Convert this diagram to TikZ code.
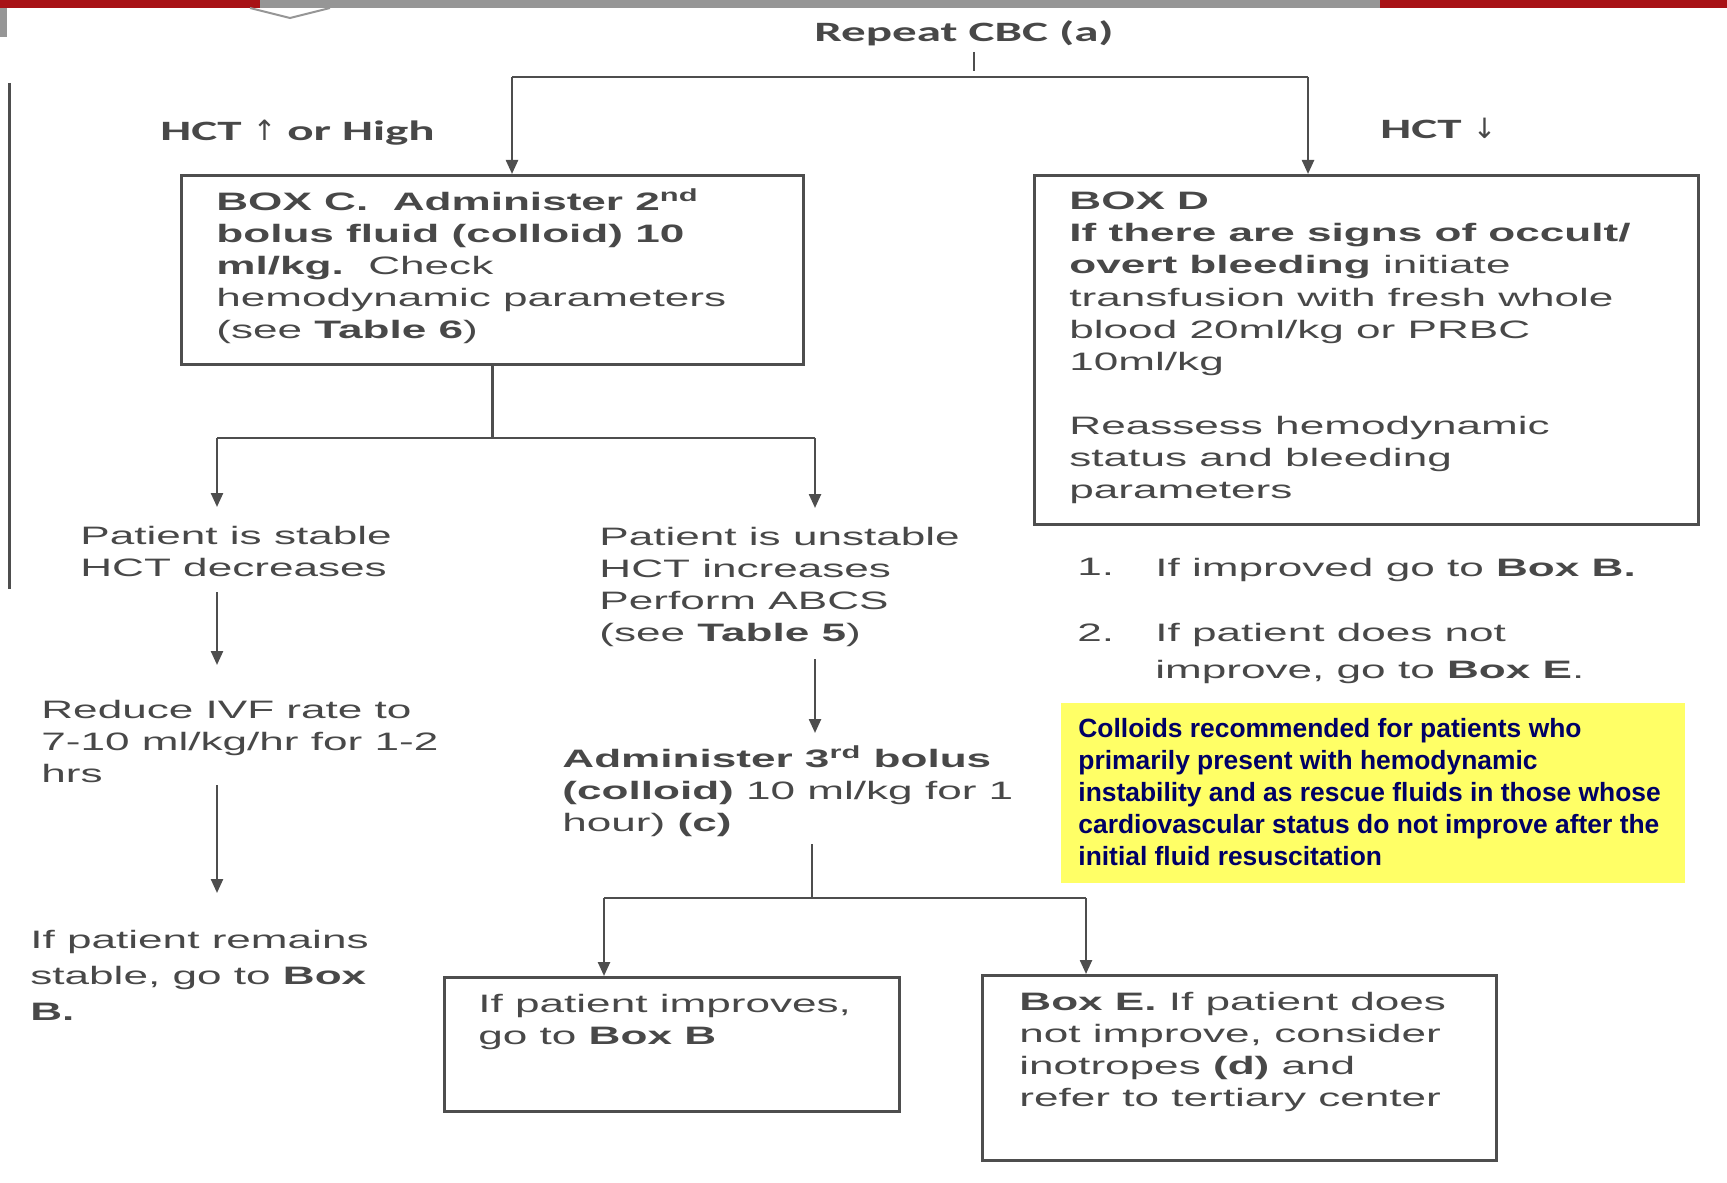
\documentclass[tikz,border=0pt]{standalone}
\usepackage{fontspec}
\setmainfont[FakeStretch=1.75]{Liberation Sans}
\newfontfamily\headfont[FakeStretch=1.75]{Carlito}
\newfontfamily\symfont{DejaVu Sans}
\newfontfamily\notefont{Liberation Sans}
\usetikzlibrary{arrows.meta}

\definecolor{inkgrey}{RGB}{72,72,72}
\definecolor{linegrey}{RGB}{78,78,78}
\definecolor{notefill}{RGB}{255,255,102}
\definecolor{noteink}{RGB}{0,0,102}
\definecolor{bannerred}{RGB}{168,18,22}
\definecolor{bannergrey}{RGB}{150,150,150}

\tikzset{
  box/.style={draw=linegrey, line width=1.4pt, anchor=north west, inner sep=0pt},
  txt/.style={anchor=north west, inner sep=0pt, align=left, text=inkgrey,
    font=\fontsize{12.6}{16}\selectfont},
  head/.style={inner sep=0pt, text=inkgrey, font=\headfont\bfseries\fontsize{14}{16}\selectfont},
  flow/.style={draw=linegrey, line width=1.2pt},
  go/.style={flow, -{Triangle[width=6pt,length=7pt]}},
}

\begin{document}
\begin{tikzpicture}[x=0.5pt,y=-0.5pt]
  \useasboundingbox (0,0) rectangle (1727,1182);
  % slide edge
  \fill[bannerred] (0,0) rectangle (260,8);
  \fill[bannergrey] (260,0) rectangle (1380,8);
  \fill[bannerred] (1380,0) rectangle (1727,8);
  \fill[bannergrey] (0,8) rectangle (7,37);
  \draw[bannergrey, line width=1pt] (250,8) -- (290,18) -- (330,8);
  \draw[linegrey, line width=1.5pt] (9,83) -- (9,589);

  % headings
  \node[head, anchor=base] (cbc) at (964,42) {Repeat CBC (a)};
  \node[head, anchor=base west] (hctup) at (160,141) {HCT {\symfont\mdseries ↑} or High};
  \node[head, anchor=base west] (hctdown) at (1380,139) {HCT {\symfont\mdseries ↓}};

  % boxes
  \node[box, minimum width=311pt, minimum height=94.5pt] (boxC) at (180,174) {};
  \node[box, minimum width=332pt, minimum height=174.5pt] (boxD) at (1033,174) {};
  \node[box, minimum width=227.5pt, minimum height=67pt] (improve) at (443,976) {};
  \node[box, minimum width=257pt, minimum height=92.5pt] (boxE) at (981,974) {};
  \node[box, draw=none, fill=notefill, minimum width=312pt, minimum height=90pt] (colloid) at (1060,702) {};

  \node[txt] (boxCtext) at ([shift={(18pt,-9pt)}]boxC.north west)
    {\textbf{BOX C.\ \ Administer 2\smash{\textsuperscript{nd}}}\\
     \textbf{bolus fluid (colloid) 10}\\
     \textbf{ml/kg.}\ \ Check\\
     hemodynamic parameters\\
     (see \textbf{Table 6})};
  \node[txt] (boxDtext) at ([shift={(18pt,-9pt)}]boxD.north west)
    {\textbf{BOX D}\\
     \textbf{If there are signs of occult/}\\
     \textbf{overt bleeding} initiate\\
     transfusion with fresh whole\\
     blood 20ml/kg or PRBC\\
     10ml/kg\\[16pt]
     Reassess hemodynamic\\
     status and bleeding\\
     parameters};
  \node[txt] (improvetext) at ([shift={(17.5pt,-9pt)}]improve.north west)
    {If patient improves,\\go to \textbf{Box B}};
  \node[txt] (boxEtext) at ([shift={(19pt,-9pt)}]boxE.north west)
    {\textbf{Box E.} If patient does\\
     not improve, consider\\
     inotropes \textbf{(d)} and\\
     refer to tertiary center};
  \node[txt, text=noteink, font=\notefont\bfseries\fontsize{13.2}{16}\selectfont] (colloidtext)
    at ([shift={(9pt,-8pt)}]colloid.north west)
    {Colloids recommended for patients who\\
     primarily present with hemodynamic\\
     instability and as rescue fluids in those whose\\
     cardiovascular status do not improve after the\\
     initial fluid resuscitation};

  % free texts
  \node[txt] (stable) at (80,526) {Patient is stable\\HCT decreases};
  \node[txt] (reduce) at (41,700) {Reduce IVF rate to\\7-10 ml/kg/hr for 1-2\\hrs};
  \node[txt, font=\fontsize{12.6}{18}\selectfont] (remain) at (30,930)
    {If patient remains\\stable, go to \textbf{Box}\\\textbf{B.}};
  \node[txt] (unstable) at (599,527)
    {Patient is unstable\\HCT increases\\Perform ABCS\\(see \textbf{Table 5})};
  \node[txt] (third) at (562,749)
    {\textbf{Administer 3\smash{\textsuperscript{rd}} bolus}\\
     \textbf{(colloid)} 10 ml/kg for 1\\
     hour) \textbf{(c)}};
  \node[txt] (numA) at (1077,558) {1.};
  \node[txt] (itemA) at (1155,558) {If improved go to \textbf{Box B.}};
  \node[txt] (numB) at (1077,623) {2.};
  \node[txt, font=\fontsize{12.6}{18.5}\selectfont] (itemB) at (1155,623)
    {If patient does not\\improve, go to \textbf{Box E}.};

  % connectors
  \draw[flow] ([xshift=5pt,yshift=-2.5pt]cbc.south) -- ([xshift=5pt,yshift=-12pt]cbc.south);
  \coordinate (hctL) at (512,77);
  \coordinate (hctR) at (1308,77);
  \draw[flow] (hctL) -- (hctR);
  \draw[go] (hctL) -- (hctL |- boxC.north);
  \draw[go] (hctR) -- (hctR |- boxD.north);

  \coordinate (colA) at (217,438);
  \coordinate (colB) at (815,438);
  \draw[flow] (boxC.south) -- (boxC.south |- colA);
  \draw[flow] (colA) -- (colB);
  \draw[go] (colA) -- ([yshift=9.5pt]colA |- stable.north);
  \draw[go] (colB) -- ([yshift=9.5pt]colB |- unstable.north);
  \draw[go] ([yshift=-7.5pt]colA |- stable.south) -- ([yshift=17.5pt]colA |- reduce.north);
  \draw[go] ([yshift=-1pt]colA |- reduce.south) -- ([yshift=18.5pt]colA |- remain.north);
  \draw[go] ([yshift=-6pt]colB |- unstable.south) -- ([yshift=8pt]colB |- third.north);

  \coordinate (thirdsplit) at (812,898);
  \coordinate (colC) at (604,898);
  \coordinate (colD) at (1086,898);
  \draw[flow] ([yshift=-3.5pt]thirdsplit |- third.south) -- (thirdsplit);
  \draw[flow] (colC) -- (colD);
  \draw[go] (colC) -- (colC |- improve.north);
  \draw[go] (colD) -- (colD |- boxE.north);
\end{tikzpicture}
\end{document}
